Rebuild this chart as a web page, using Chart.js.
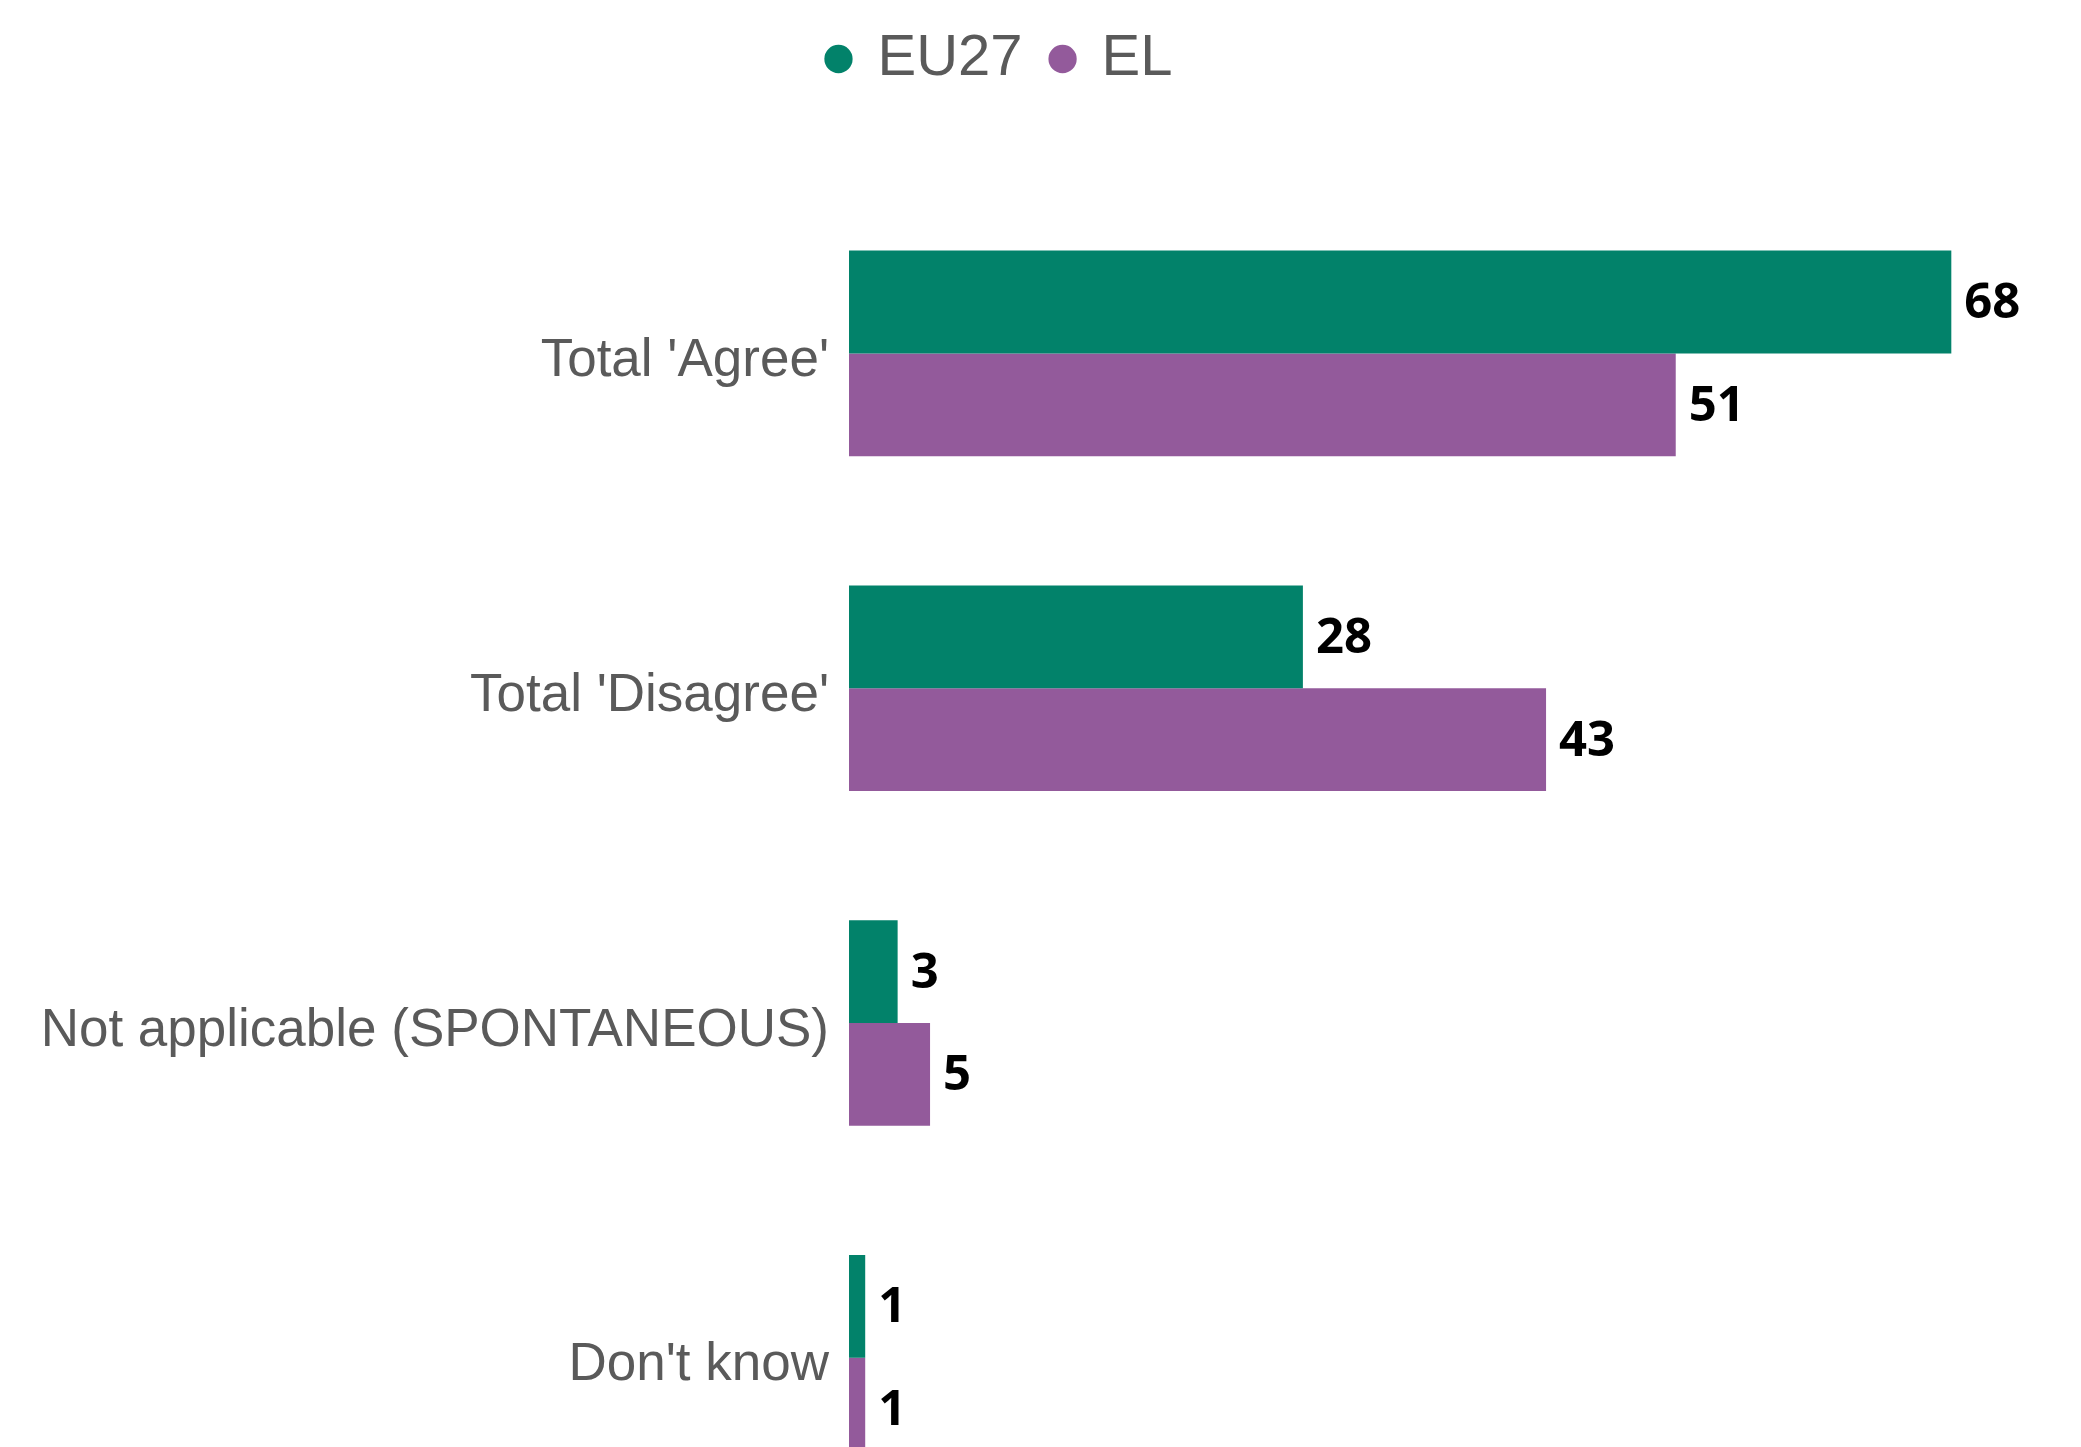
<!DOCTYPE html>
<html>
<head>
<meta charset="utf-8">
<script src="https://cdn.jsdelivr.net/npm/chart.js@4"></script>
<style>
  html, body { margin: 0; padding: 0; background: #fff; overflow: hidden; }
  #wrap { position: relative; width: 2081px; height: 1569px; }
</style>
</head>
<body>
<div id="wrap"><canvas id="chart"></canvas></div>
<script>
const categories = ["Total 'Agree'", "Total 'Disagree'", "Not applicable (SPONTANEOUS)", "Don't know"];
const seriesNames = ["EU27", "EL"];
const eu27Values = [68, 28, 3, 1];
const elValues = [51, 43, 5, 1];

const GREEN = "#02826a";
const PURPLE = "#935a9b";
const LABEL_FONT = "'Liberation Sans', sans-serif";

// bigger gap under the legend, and legend sits a bit left of centre
const legendGap = {
  id: "legendGap",
  beforeInit(chart) {
    const legend = chart.legend;
    if (!legend) return;
    const fit = legend.fit;
    legend.fit = function () {
      fit.call(legend);
      legend.height += 88;
    };
  },
  afterLayout(chart) {
    if (!chart.legend) return;
    chart.legend.left -= 40;
    chart.legend.right -= 40;
  },
};

// value labels at bar ends
const barValues = {
  id: "barValues",
  afterDatasetsDraw(chart) {
    const ctx = chart.ctx;
    ctx.save();
    ctx.font = "bold 49px 'Noto Sans', sans-serif";
    ctx.fillStyle = "#000";
    ctx.textAlign = "left";
    ctx.textBaseline = "middle";
    chart.data.datasets.forEach((ds, i) => {
      const meta = chart.getDatasetMeta(i);
      meta.data.forEach((bar, j) => {
        ctx.fillText(String(ds.data[j]), bar.x + 13, bar.y + 2);
      });
    });
    ctx.restore();
  },
};

new Chart(document.getElementById("chart"), {
  type: "bar",
  data: {
    labels: categories,
    datasets: [
      { label: seriesNames[0], data: eu27Values, backgroundColor: GREEN },
      { label: seriesNames[1], data: elValues, backgroundColor: PURPLE },
    ],
  },
  options: {
    indexAxis: "y",
    responsive: true,
    maintainAspectRatio: false,
    animation: false,
    categoryPercentage: 0.614,
    barPercentage: 1.0,
    layout: { padding: { top: 0, bottom: 7, left: 0, right: 0 } },
    scales: {
      x: {
        display: false,
        min: 0,
        max: 76,
      },
      y: {
        grid: { display: false },
        border: { display: false },
        ticks: {
          color: "#5a5a5a",
          padding: 12,
          labelOffset: 8,
          font: { family: LABEL_FONT, size: 53 },
        },
        afterFit(scale) {
          scale.width = 849;
        },
      },
    },
    plugins: {
      legend: {
        position: "top",
        labels: {
          usePointStyle: true,
          pointStyle: "circle",
          boxWidth: 20,
          boxHeight: 20,
          padding: 30,
          color: "#5a5a5a",
          font: { family: LABEL_FONT, size: 58 },
        },
      },
      tooltip: { enabled: false },
    },
  },
  plugins: [legendGap, barValues],
});
</script>
</body>
</html>
